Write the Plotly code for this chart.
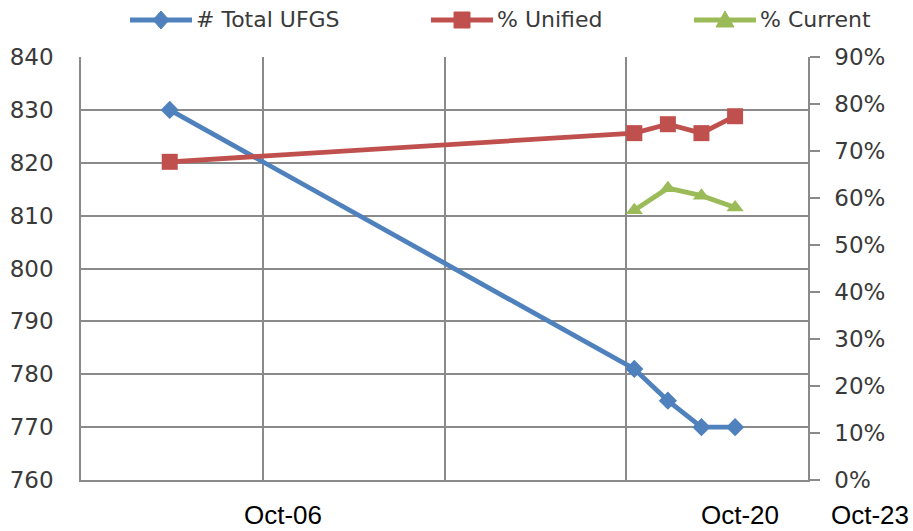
import plotly.graph_objects as go
import pandas as pd

# ---- data ----
dates = ["2003-12-01", "2017-10-01", "2018-10-01", "2019-10-01", "2020-10-01"]
total_ufgs = [830, 781, 775, 770, 770]
pct_unified = [0.677, 0.738, 0.757, 0.738, 0.774]
current_dates = ["2017-10-01", "2018-10-01", "2019-10-01", "2020-10-01"]
pct_current = [0.574, 0.621, 0.605, 0.580]

series_names = ["# Total UFGS", "% Unified", "% Current"]
x_labels = ["Oct-06", "Oct-20", "Oct-23"]

# ---- styling ----
BLUE = "#4F81BD"
RED = "#C0504D"
GREEN = "#9BBB59"
GRID = "#8a8a8a"
TXT = "#3a3a3a"
TICKFONT = dict(family="DejaVu Sans", size=23, color=TXT)

W, H = 913, 531
L, R, T, B = 81, 105, 57, 51
PW, PH = W - L - R, H - T - B

x_range = ["2001-04-10", "2022-12-03"]
grid_x = pd.date_range(x_range[0], x_range[1], periods=5)[1:4]

fig = go.Figure()
fig.add_trace(go.Scatter(
    x=dates, y=total_ufgs, name=series_names[0], mode="lines+markers",
    line=dict(color=BLUE, width=4.8),
    marker=dict(symbol="diamond", size=14, color=BLUE),
    yaxis="y"))
fig.add_trace(go.Scatter(
    x=dates, y=pct_unified, name=series_names[1], mode="lines+markers",
    line=dict(color=RED, width=4.8),
    marker=dict(symbol="square", size=16, color=RED),
    yaxis="y2"))
fig.add_trace(go.Scatter(
    x=current_dates, y=pct_current, name=series_names[2], mode="lines+markers",
    line=dict(color=GREEN, width=4.8),
    marker=dict(symbol="triangle-up", size=15, color=GREEN),
    yaxis="y2"))


def px2paper(px, py):
    return (px - L) / PW, (H - B - py) / PH


# manual legend (glyph line + marker + text)
legend_items = [
    (130, 192, 161, BLUE, "diamond", series_names[0]),
    (431, 493, 462, RED, "square", series_names[1]),
    (694, 756, 725, GREEN, "triangle", series_names[2]),
]
shapes = []
annotations = []
ly = 20
for x0, x1, xm, col, sym, name in legend_items:
    a0, b0 = px2paper(x0, ly)
    a1, _ = px2paper(x1, ly)
    am, bm = px2paper(xm, ly)
    shapes.append(dict(type="line", xref="paper", yref="paper", x0=a0, x1=a1,
                       y0=b0, y1=b0, line=dict(color=col, width=4.8)))
    if sym == "diamond":
        path = "M-8,0 L0,9 L8,0 L0,-9 Z"
    elif sym == "square":
        path = "M-8,-8 L8,-8 L8,8 L-8,8 Z"
    else:
        path = "M-9,-7 L9,-7 L0,9 Z"
    shapes.append(dict(type="path", xref="paper", yref="paper",
                       xsizemode="pixel", ysizemode="pixel",
                       xanchor=am, yanchor=bm, path=path,
                       fillcolor=col, line=dict(color=col, width=1)))
    tx, ty = px2paper(x1 + 2, ly - 1)
    annotations.append(dict(text=name, xref="paper", yref="paper", x=tx, y=ty,
                            xanchor="left", yanchor="middle", showarrow=False,
                            font=dict(family="DejaVu Sans", size=22, color=TXT)))

# x-axis labels
label_px = [283, 740, 870]
for lab, lx in zip(x_labels, label_px):
    ax, ay = px2paper(lx, 515)
    annotations.append(dict(text=lab, xref="paper", yref="paper", x=ax, y=ay,
                            xanchor="center", yanchor="middle", showarrow=False,
                            font=dict(family="Liberation Sans, Arial", size=26, color="#000000")))

fig.update_layout(
    width=W, height=H,
    margin=dict(l=L, r=R, t=T, b=B, pad=0, autoexpand=False),
    paper_bgcolor="white", plot_bgcolor="white",
    showlegend=False,
    xaxis=dict(type="date", range=x_range, tickmode="array", tickvals=list(grid_x),
               showticklabels=False, showgrid=True, gridcolor=GRID, gridwidth=1.5,
               showline=True, linecolor=GRID, linewidth=1.5, ticks="", zeroline=False,
               automargin=False),
    yaxis=dict(range=[760, 840], dtick=10, tick0=760, showgrid=True, gridcolor=GRID,
               gridwidth=1.5, showline=True, linecolor=GRID, linewidth=1.5, ticks="",
               tickfont=TICKFONT, ticklabelstandoff=21, zeroline=False, automargin=False),
    yaxis2=dict(range=[0, 0.9], dtick=0.1, tick0=0, overlaying="y", side="right",
                showgrid=False, showline=True, linecolor=GRID, linewidth=1.5,
                ticks="outside", ticklen=10, tickcolor=GRID, tickwidth=1.5,
                tickformat=".0%", tickfont=TICKFONT, ticklabelstandoff=10,
                zeroline=False, automargin=False),
    shapes=shapes,
    annotations=annotations,
)

fig.write_html("out.html", config={"displayModeBar": False},
               post_script="document.body.style.margin='0';document.body.style.overflow='hidden';")
